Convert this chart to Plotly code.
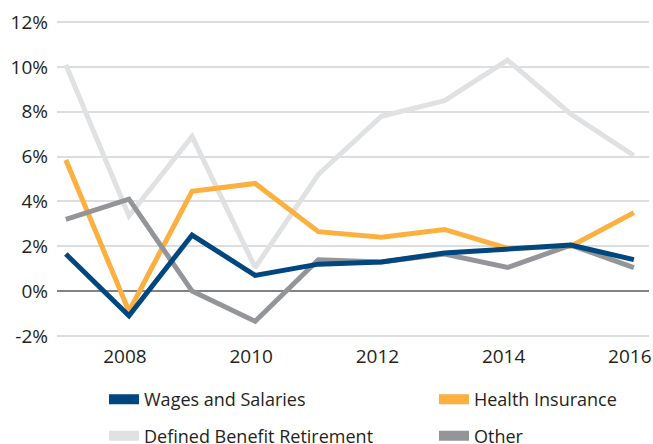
import plotly.graph_objects as go

years = [2007, 2008, 2009, 2010, 2011, 2012, 2013, 2014, 2015, 2016]
wages = [1.65, -1.1, 2.5, 0.7, 1.2, 1.3, 1.7, 1.85, 2.05, 1.4]
health = [5.85, -0.9, 4.45, 4.8, 2.65, 2.4, 2.75, 1.9, 2.0, 3.5]
db_retirement = [10.1, 3.35, 6.9, 1.05, 5.2, 7.8, 8.5, 10.3, 7.9, 6.05]
other = [3.2, 4.1, 0.0, -1.35, 1.4, 1.3, 1.65, 1.05, 2.05, 1.05]

series_names = ["Wages and Salaries", "Health Insurance", "Defined Benefit Retirement", "Other"]
series_values = [wages, health, db_retirement, other]
series_colors = ["#00467f", "#fbb040", "#e0e1e2", "#939598"]
legend_ids = ["legend", "legend2", "legend", "legend2"]

y_ticks = [-2, 0, 2, 4, 6, 8, 10, 12]
y_tick_labels = ["-2%", "0%", "2%", "4%", "6%", "8%", "10%", "12%"]
x_ticks = [2008, 2010, 2012, 2014, 2016]

FONT = "Open Sans"
TXT = "#231f20"

fig = go.Figure()
# draw order: DB retirement behind, then others
draw_order = [2, 1, 3, 0]
for i in draw_order:
    fig.add_trace(go.Scatter(
        x=years, y=series_values[i], mode="lines", name=series_names[i],
        line=dict(color=series_colors[i], width=5), showlegend=False,
        hoverinfo="skip",
    ))
# legend entries (thick swatches)
for i in range(4):
    fig.add_trace(go.Scatter(
        x=[None], y=[None], mode="lines", name=series_names[i],
        line=dict(color=series_colors[i], width=16), showlegend=True,
        legend=legend_ids[i], legendgroup="g%d" % i,
    ))

legend_common = dict(
    orientation="v", xanchor="left", yanchor="top",
    xref="paper", yref="paper",
    font=dict(size=18, color=TXT), bgcolor="rgba(0,0,0,0)",
    tracegroupgap=10, itemwidth=30, borderwidth=0,
)

fig.update_layout(
    width=653, height=444,
    margin=dict(l=57, r=4, t=21, b=107, autoexpand=False),
    paper_bgcolor="white", plot_bgcolor="white",
    font=dict(family=FONT, size=18, color=TXT),
    xaxis=dict(
        range=[2006.86, 2016.24], tickvals=x_ticks, showgrid=False,
        zeroline=False, showline=False, ticks="",
        tickfont=dict(size=19, color=TXT), ticklabelstandoff=6,
        ticklabelshift=-4, ticklabeloverflow="allow",
    ),
    yaxis=dict(
        range=[-2.05, 12.05], tickvals=y_ticks, ticktext=y_tick_labels,
        showgrid=True, gridcolor="#dcdddf", gridwidth=1.5,
        zeroline=True, zerolinecolor="#808285", zerolinewidth=1.5,
        showline=False, ticks="", tickfont=dict(size=19, color=TXT),
        ticklabelstandoff=8,
    ),
    legend=dict(x=0.0794, y=-0.1397, **legend_common),
    legend2=dict(x=0.6368, y=-0.1397, **legend_common),
)

fig.write_html(
    "out.html",
    config={"displayModeBar": False},
    post_script="document.body.style.margin='0';",
)
